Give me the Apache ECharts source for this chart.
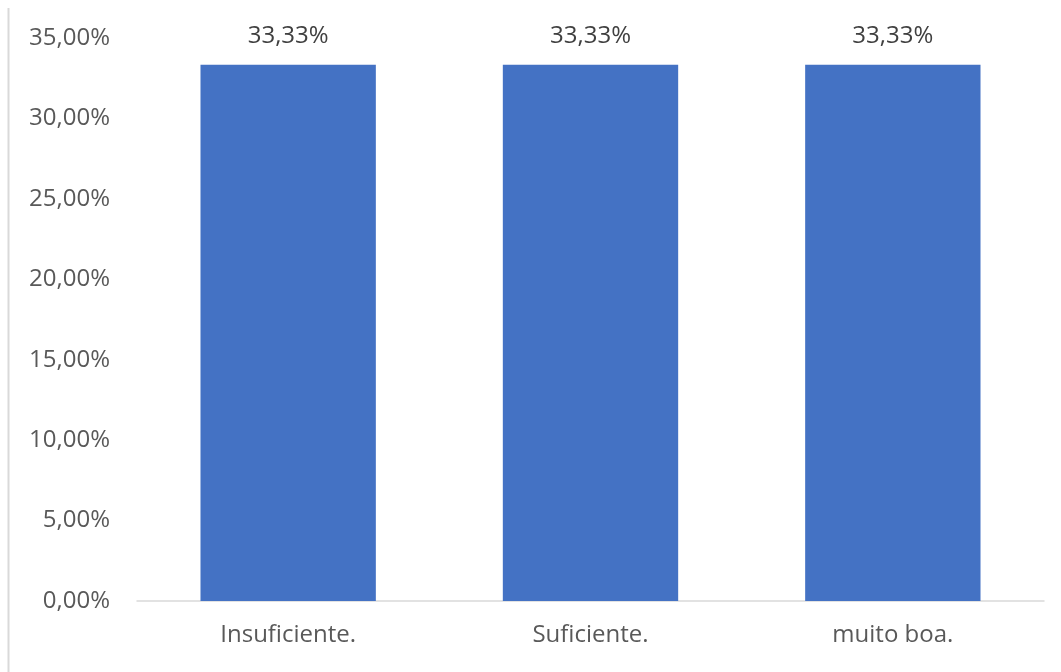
<!DOCTYPE html>
<html><head><meta charset="utf-8">
<script src="https://cdn.jsdelivr.net/npm/echarts@6/dist/echarts.min.js"></script>
<style>html,body{margin:0;padding:0;background:#fff}#c{width:1061px;height:672px}</style>
</head><body><div id="c"></div>
<script>
const categories = ['Insuficiente.', 'Suficiente.', 'muito boa.'];
const values = [33.33, 33.33, 33.33];
const yMin = 0, yMax = 35, yStep = 5;
const fmt = v => v.toFixed(2).replace('.', ',') + '%';
const font = 'Open Sans, Noto Sans, sans-serif';
const chart = echarts.init(document.getElementById('c'));
chart.setOption({
  animation: false,
  grid: { left: 137, right: 17, top: 38, bottom: 71, containLabel: false },
  graphic: [{ type: 'line', shape: { x1: 8.5, y1: 8, x2: 8.5, y2: 672 }, style: { stroke: '#d9d9d9', lineWidth: 2 } }],
  xAxis: {
    type: 'category', data: categories,
    axisLine: { lineStyle: { color: '#d9d9d9', width: 1.5 } },
    axisTick: { show: false },
    axisLabel: { color: '#595959', fontSize: 24, fontFamily: font, margin: 22 }
  },
  yAxis: {
    type: 'value', min: yMin, max: yMax, interval: yStep,
    splitLine: { show: false }, axisLine: { show: false }, axisTick: { show: false },
    axisLabel: { color: '#595959', fontSize: 24, fontFamily: font, margin: 27, formatter: fmt }
  },
  series: [{
    type: 'bar', data: values, barWidth: '58%',
    itemStyle: { color: '#4472c4' },
    label: { show: true, position: 'top', distance: 17, color: '#404040', fontSize: 24, fontFamily: font, formatter: p => fmt(p.value) }
  }]
});
</script></body></html>
